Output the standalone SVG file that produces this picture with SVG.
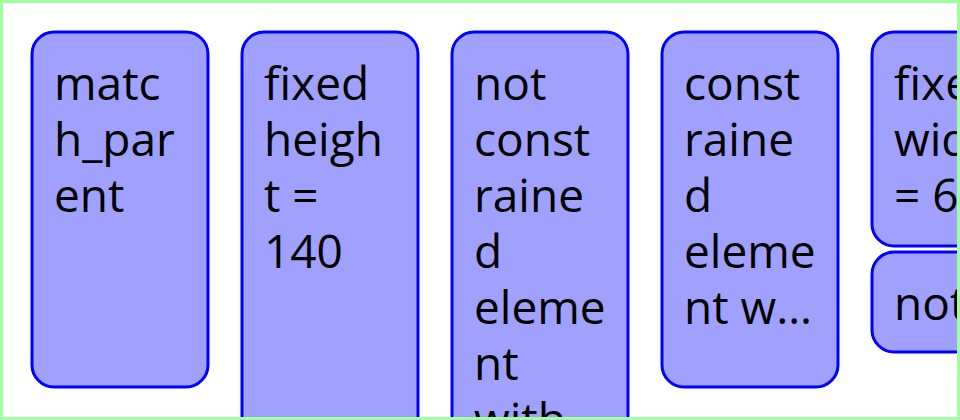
<svg xmlns="http://www.w3.org/2000/svg" width="960" height="420" viewBox="0 0 960 420">
<style>
.box{fill:#a0a0ff;stroke:#0000ff;stroke-width:3}
.t{font-family:"Open Sans","Noto Sans",sans-serif;font-size:46px;fill:#000}
</style>
<defs><clipPath id="c"><rect x="3" y="3" width="954" height="414"/></clipPath></defs>
<rect x="0" y="0" width="960" height="420" fill="#ffffff"/>
<g clip-path="url(#c)">
<g id="n1"><rect class="box" x="32" y="32" width="176" height="355" rx="22"/>
<text class="t" x="54" y="100">matc</text><text class="t" x="54" y="156">h_par</text><text class="t" x="54" y="212">ent</text></g>
<g id="n2"><rect class="box" x="242" y="32" width="176" height="420" rx="22"/>
<text class="t" x="264" y="100">fixed</text><text class="t" x="264" y="156">heigh</text><text class="t" x="264" y="212">t =</text><text class="t" x="264" y="268">140</text></g>
<g id="n3"><rect class="box" x="452" y="32" width="176" height="420" rx="22"/>
<text class="t" x="474" y="100">not</text><text class="t" x="474" y="156">const</text><text class="t" x="474" y="212">raine</text><text class="t" x="474" y="268">d</text><text class="t" x="474" y="324">eleme</text><text class="t" x="474" y="380">nt</text><text class="t" x="474" y="436">with</text></g>
<g id="n4"><rect class="box" x="662" y="32" width="176" height="355" rx="22"/>
<text class="t" x="684" y="100">const</text><text class="t" x="684" y="156">raine</text><text class="t" x="684" y="212">d</text><text class="t" x="684" y="268">eleme</text><text class="t" x="684" y="324">nt w…</text></g>
<g id="n5"><rect class="box" x="872" y="32" width="176" height="214" rx="22"/>
<text class="t" x="894" y="100">fixe</text><text class="t" x="894" y="156">wid</text><text class="t" x="894" y="212">= 6</text></g>
<g id="n6"><rect class="box" x="872" y="252" width="176" height="100" rx="22"/>
<text class="t" x="894" y="320">not</text></g>
</g>
<g id="connectors"/>
<rect x="1.5" y="1.5" width="957" height="417" fill="none" stroke="#a0ffa0" stroke-width="3"/>
</svg>
